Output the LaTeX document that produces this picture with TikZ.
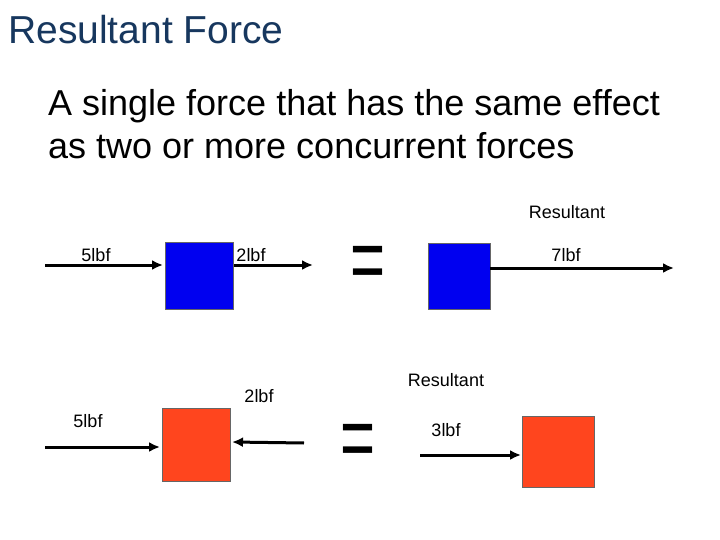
\documentclass[tikz,border=0pt]{standalone}
\usepackage{fontspec}
\setmainfont{Liberation Sans}
\usetikzlibrary{arrows.meta}
\definecolor{titleblue}{RGB}{23,55,94}
\definecolor{boxblue}{RGB}{0,0,240}
\definecolor{boxred}{RGB}{255,69,30}
\tikzset{
  force/.style={line width=3pt,-{Latex[length=11pt,width=10pt]}},
  small/.style={font=\fontsize{18}{20}\selectfont},
  eq/.style={font=\fontsize{60}{60}\selectfont,yscale=1.5}
}
\begin{document}
\begin{tikzpicture}[x=1pt,y=-1pt]
        \useasboundingbox (0,0) rectangle (720,540);
        %titolo e testo
        \node[anchor=west,text=titleblue,font=\fontsize{39}{44}\selectfont,inner sep=0pt] (title) at (8,30) {Resultant Force};
        \node[anchor=west,align=left,font=\fontsize{36}{43}\selectfont,inner sep=0pt] (def) at (48,124) {A single force that has the same effect\\as two or more concurrent forces};
        %prima riga
        \draw[draw=black!60,fill=boxblue] (165,242) rectangle (233,309);
        \node[small] (f1) at (96,255) {5lbf};
        \coordinate (a1) at (45,265);
        \coordinate (a1e) at (163,265);
        \draw[force] (a1) -- (a1e);
        \node[small] (f2) at (251,255) {2lbf};
        \coordinate (a2) at (234,265);
        \coordinate (a2e) at (313,265);
        \draw[force] (a2) -- (a2e);
        \node[eq] (eq1) at (368,268) {=};
        \draw[draw=black!60,fill=boxblue] (428,243) rectangle (490,309);
        \node[small] (res1) at (567,212) {Resultant};
        \node[small] (f3) at (566,255) {7lbf};
        \coordinate (a3) at (490,268);
        \coordinate (a3e) at (674,268);
        \draw[force] (a3) -- (a3e);
        %seconda riga
        \draw[draw=black!60,fill=boxred] (162,408) rectangle (230,481);
        \node[small] (f4) at (88,421) {5lbf};
        \coordinate (b1) at (45,447);
        \coordinate (b1e) at (160,447);
        \draw[force] (b1) -- (b1e);
        \node[small] (f5) at (259,396) {2lbf};
        \coordinate (b2) at (304,443);
        \coordinate (b2e) at (232,442);
        \draw[force] (b2) -- (b2e);
        \node[eq] (eq2) at (358,446) {=};
        \node[small] (res2) at (446,380) {Resultant};
        \node[small] (f6) at (446,430) {3lbf};
        \coordinate (b3) at (420,455);
        \coordinate (b3e) at (521,455);
        \draw[force] (b3) -- (b3e);
        \draw[draw=black!60,fill=boxred] (522,416) rectangle (594,487);
\end{tikzpicture}
\end{document}
